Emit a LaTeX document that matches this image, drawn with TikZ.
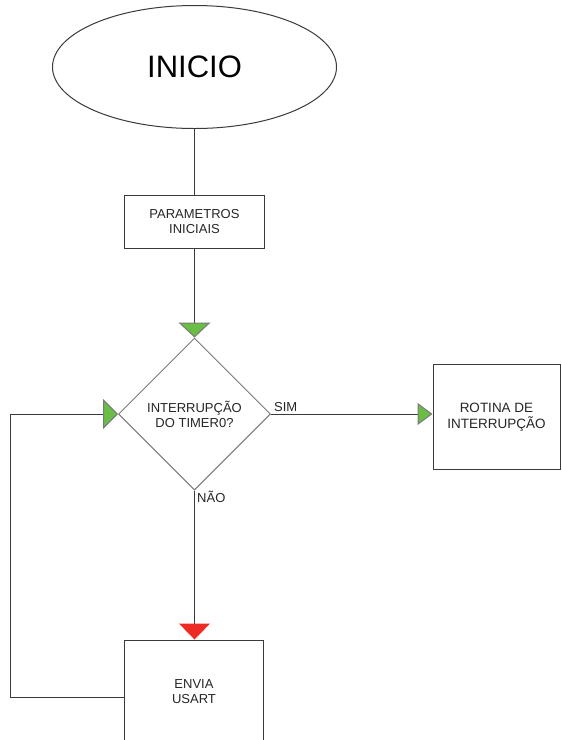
\documentclass[tikz,border=0pt]{standalone}
\usepackage{fontspec}
\setmainfont{Liberation Sans}
\usetikzlibrary{shapes.geometric,arrows.meta}
\definecolor{lineC}{HTML}{3A3A3A}
\definecolor{diaC}{HTML}{7A7A7A}
\definecolor{triG}{HTML}{6ABD45}
\definecolor{triR}{HTML}{EE2A24}
\tikzset{
  boxnode/.style={draw=lineC,line width=1pt,rectangle,inner sep=0pt,align=center,font=\fontsize{13}{15}\selectfont,text=black!85},
  conn/.style={draw=lineC,line width=1pt},
  greentip/.style={-{Triangle[width=#1,length=15pt,fill=triG,color=diaC]}},
  redtip/.style={-{Triangle[width=31pt,length=16pt,fill=triR,color=triR]}},
  lbl/.style={font=\fontsize{13}{15}\selectfont,text=black!85,inner sep=0pt}
}
\begin{document}
\begin{tikzpicture}[x=1pt,y=-1pt]
\useasboundingbox (0,0) rectangle (562,740);
\clip (0,0) rectangle (562,740);
\fill[white] (0,0) rectangle (562,740);
\node[ellipse,draw=lineC,line width=1pt,minimum width=284pt,minimum height=123pt,inner sep=0pt,font=\fontsize{31}{36}\selectfont] (inicio) at (194.5,67) {INICIO};
\node[boxnode,minimum width=140pt,minimum height=53pt] (param) at (194.5,221.5) {PARAMETROS\\INICIAIS};
\node[diamond,draw=diaC,line width=1pt,minimum width=152pt,minimum height=152pt,inner sep=0pt,align=center,font=\fontsize{13}{15}\selectfont,text=black!85] (dec) at (194.5,414) {INTERRUPÇÃO\\DO TIMER0?};
\node[boxnode,minimum width=127pt,minimum height=105pt,font=\fontsize{13.5}{16}\selectfont] (rotina) at (496.5,417) {ROTINA DE\\INTERRUPÇÃO};
\node[boxnode,minimum width=139pt,minimum height=104pt] (envia) at (194,692) {ENVIA\\USART};
\coordinate (c1) at (10,697);
\coordinate (c2) at (10,414);
\draw[conn] (inicio.south) -- (inicio.south |- param.north);
\draw[conn,greentip=32pt] (param.south) -- (dec.north);
\draw[conn,greentip=22pt] (dec.east) -- (dec.east -| rotina.west);
\draw[conn,redtip] (dec.south) -- (dec.south |- envia.north);
\draw[conn,greentip=30pt] (envia.west |- c1) -- (c1) -- (c2) -- (dec.west);
\node[lbl,anchor=base west] (sim) at (274,411) {SIM};
\node[lbl,anchor=base west] (nao) at (197,502) {NÃO};
\end{tikzpicture}
\end{document}
